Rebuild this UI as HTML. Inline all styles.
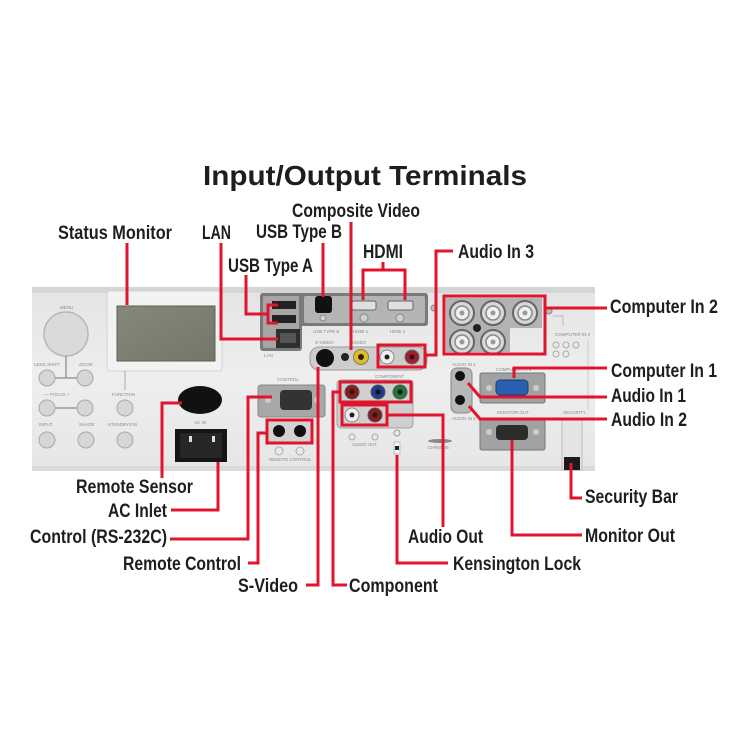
<!DOCTYPE html>
<html><head><meta charset="utf-8"><style>
html,body{margin:0;padding:0;background:#fff;}
svg{display:block;}
.lb{font-family:"Liberation Sans",Arial,sans-serif;font-weight:bold;font-size:19px;fill:#1e1e1e;}
.tt{font-family:"Liberation Sans",Arial,sans-serif;font-size:4.5px;fill:#8a8a8a;}
.r{stroke:#e0142d;stroke-width:3;fill:none;}
</style></head><body>
<svg width="750" height="750" viewBox="0 0 750 750" xmlns="http://www.w3.org/2000/svg">
<defs>
<linearGradient id="pg" x1="0" y1="0" x2="0" y2="1"><stop offset="0" stop-color="#e4e4e4"/><stop offset="0.5" stop-color="#eeeeee"/><stop offset="1" stop-color="#e6e6e6"/></linearGradient>
<linearGradient id="lcd" x1="0" y1="0" x2="1" y2="1"><stop offset="0" stop-color="#86887a"/><stop offset="1" stop-color="#74766a"/></linearGradient>
</defs>
<rect width="750" height="750" fill="#fff"/>
<text x="203" y="185" font-family="Liberation Sans, Arial, sans-serif" font-weight="bold" font-size="28" fill="#1e1e1e" textLength="324" lengthAdjust="spacingAndGlyphs">Input/Output Terminals</text>

<!-- panel -->
<rect x="32" y="287" width="563" height="184" fill="url(#pg)"/>
<rect x="32" y="287" width="563" height="6" fill="#d5d5d5"/>
<rect x="32" y="466" width="563" height="5" fill="#dadada"/>

<!-- left controls -->
<text class="tt" x="60" y="309">MENU</text>
<circle cx="66" cy="334" r="22" fill="#dadada" stroke="#b8b8b8" stroke-width="1.5"/>
<line x1="66" y1="356" x2="66" y2="378" stroke="#9a9a9a" stroke-width="1.5"/>
<line x1="47" y1="378" x2="85" y2="378" stroke="#9a9a9a" stroke-width="1.5"/>
<text class="tt" x="34" y="366">LENS SHIFT</text><text class="tt" x="79" y="366">ZOOM</text>
<circle cx="47" cy="378" r="8" fill="#d6d6d6" stroke="#a8a8a8"/><circle cx="85" cy="378" r="8" fill="#d6d6d6" stroke="#a8a8a8"/>
<text class="tt" x="44" y="396">—    FOCUS    +</text>
<line x1="47" y1="408" x2="85" y2="408" stroke="#9a9a9a" stroke-width="1.5"/>
<circle cx="47" cy="408" r="8" fill="#d6d6d6" stroke="#a8a8a8"/><circle cx="85" cy="408" r="8" fill="#d6d6d6" stroke="#a8a8a8"/>
<text class="tt" x="112" y="396">FUNCTION</text>
<circle cx="125" cy="408" r="8" fill="#d6d6d6" stroke="#a8a8a8"/>
<text class="tt" x="39" y="426">INPUT</text><text class="tt" x="79" y="426">SHADE</text><text class="tt" x="108" y="426">STANDBY/ON</text>
<circle cx="47" cy="440" r="8" fill="#d6d6d6" stroke="#a8a8a8"/><circle cx="86" cy="440" r="8" fill="#d6d6d6" stroke="#a8a8a8"/><circle cx="125" cy="440" r="8" fill="#d6d6d6" stroke="#a8a8a8"/>
<rect x="107" y="291" width="115" height="80" rx="3" fill="#f2f2f2" stroke="#d2d2d2"/>
<rect x="117" y="306" width="98" height="55" fill="url(#lcd)" stroke="#5f6055"/>
<line x1="125" y1="371" x2="125" y2="390" stroke="#aaa" stroke-width="1"/>
<ellipse cx="200" cy="400" rx="22" ry="14" fill="#111"/>
<text class="tt" x="194" y="424">AC IN</text>
<rect x="175" y="429" width="52" height="33" fill="#151515"/>
<rect x="180" y="433" width="42" height="25" fill="#262626"/>
<rect x="189" y="436" width="3" height="6" fill="#ddd"/><rect x="212" y="436" width="3" height="6" fill="#ddd"/>

<!-- middle connectors -->
<rect x="260" y="293" width="168" height="33" rx="3" fill="#7a7a7a"/>
<rect x="260" y="293" width="42" height="58" rx="3" fill="#7a7a7a"/>
<rect x="304" y="296" width="121" height="27" rx="2" fill="#b4b4b4"/>
<rect x="263" y="296" width="36" height="52" rx="2" fill="#a6a6a6"/>
<rect x="272" y="301" width="24" height="8" fill="#222"/><rect x="272" y="315" width="24" height="8" fill="#222"/>
<rect x="276" y="329" width="24" height="19" fill="#2f2f2f"/><rect x="280" y="333" width="16" height="10" fill="#555"/>
<text class="tt" x="264" y="357">LAN</text>
<rect x="315" y="296" width="17" height="17" rx="3" fill="#111"/>
<rect x="352" y="301" width="24" height="9" rx="2" fill="#e0e0e0" stroke="#666"/>
<rect x="388" y="301" width="25" height="9" rx="2" fill="#e0e0e0" stroke="#666"/>
<circle cx="364" cy="318" r="4" fill="#d0d0d0" stroke="#888"/><circle cx="400" cy="318" r="4" fill="#d0d0d0" stroke="#888"/>
<circle cx="323" cy="318" r="3" fill="#d0d0d0" stroke="#888"/>
<text class="tt" x="313" y="333">USB TYPE B</text><text class="tt" x="353" y="333">HDMI 1</text><text class="tt" x="390" y="333">HDMI 2</text>
<text class="tt" x="315" y="344">S-VIDEO</text><text class="tt" x="352" y="344">VIDEO</text>
<rect x="310" y="347" width="117" height="23" rx="9" fill="#cdcdcd" stroke="#9a9a9a"/>
<circle cx="325" cy="358" r="9" fill="#111"/>
<circle cx="345" cy="357" r="4" fill="#222"/>
<circle cx="361" cy="357" r="7.5" fill="#e3bd1a" stroke="#777"/><circle cx="361" cy="357" r="3" fill="#222"/>
<circle cx="387" cy="357" r="7" fill="#efefef" stroke="#888"/><circle cx="387" cy="357" r="2.5" fill="#222"/>
<circle cx="412" cy="357" r="7" fill="#9b2030" stroke="#666"/><circle cx="412" cy="357" r="2.5" fill="#3a0b10"/>
<text class="tt" x="277" y="381">CONTROL</text>
<rect x="258" y="385" width="67" height="32" rx="3" fill="#a8a8a8" stroke="#888"/>
<rect x="280" y="390" width="32" height="20" rx="4" fill="#333"/>
<circle cx="268" cy="400" r="3" fill="#ccc"/><circle cx="317" cy="400" r="3" fill="#ccc"/>
<rect x="267" y="420" width="45" height="23" fill="#d2d2d2"/>
<circle cx="279" cy="431" r="6" fill="#111"/><circle cx="300" cy="431" r="6" fill="#111"/>
<circle cx="279" cy="451" r="4" fill="none" stroke="#aaa"/><circle cx="300" cy="451" r="4" fill="none" stroke="#aaa"/>
<text class="tt" x="269" y="461">REMOTE CONTROL</text>
<text class="tt" x="375" y="378">COMPONENT</text>
<rect x="337" y="380" width="76" height="48" rx="4" fill="#cfcfcf" stroke="#a0a0a0"/>
<circle cx="352" cy="392" r="7" fill="#8b1a22" stroke="#555"/><circle cx="352" cy="392" r="2.5" fill="#220"/>
<circle cx="378" cy="392" r="7" fill="#1e3d8a" stroke="#555"/><circle cx="378" cy="392" r="2.5" fill="#111"/>
<circle cx="400" cy="392" r="7" fill="#1d7a3a" stroke="#555"/><circle cx="400" cy="392" r="2.5" fill="#111"/>
<circle cx="352" cy="415" r="7" fill="#efefef" stroke="#888"/><circle cx="352" cy="415" r="2.5" fill="#222"/>
<circle cx="375" cy="415" r="7" fill="#8b1a22" stroke="#555"/><circle cx="375" cy="415" r="2.5" fill="#220"/>
<circle cx="352" cy="437" r="3" fill="none" stroke="#aaa"/><circle cx="375" cy="437" r="3" fill="none" stroke="#aaa"/>
<text class="tt" x="352" y="446">AUDIO OUT</text>
<rect x="394" y="430" width="6" height="6" rx="3" fill="none" stroke="#999"/>
<rect x="394" y="442" width="6" height="12" fill="#f5f5f5" stroke="#bbb"/><rect x="395" y="446" width="4" height="4" fill="#222"/>
<ellipse cx="440" cy="441" rx="12" ry="2" fill="#8a8a8a"/>
<text class="tt" x="428" y="449">CHRISTIE</text>

<!-- right section -->
<polygon points="446,298 542,298 542,328 510,328 510,352 446,352" fill="#b3b3b3"/>
<g fill="#d8d8d8" stroke="#666" stroke-width="2">
<circle cx="462" cy="313" r="12"/><circle cx="493" cy="313" r="12"/><circle cx="525" cy="313" r="12"/><circle cx="462" cy="342" r="12"/><circle cx="493" cy="342" r="12"/>
</g>
<g fill="#f0f0f0" stroke="#888" stroke-width="1.5">
<circle cx="462" cy="313" r="7"/><circle cx="493" cy="313" r="7"/><circle cx="525" cy="313" r="7"/><circle cx="462" cy="342" r="7"/><circle cx="493" cy="342" r="7"/>
</g>
<g fill="#999"><circle cx="462" cy="313" r="2.5"/><circle cx="493" cy="313" r="2.5"/><circle cx="525" cy="313" r="2.5"/><circle cx="462" cy="342" r="2.5"/><circle cx="493" cy="342" r="2.5"/></g>
<circle cx="477" cy="328" r="4" fill="#222"/>
<circle cx="434" cy="308" r="3" fill="#bbb" stroke="#888"/><circle cx="549" cy="311" r="3" fill="#bbb" stroke="#888"/>
<path d="M553 316 H563 V326" stroke="#bbb" fill="none"/>
<text class="tt" x="555" y="336">COMPUTER IN 2</text>
<g fill="none" stroke="#aaa"><circle cx="556" cy="345" r="3"/><circle cx="566" cy="345" r="3"/><circle cx="576" cy="345" r="3"/><circle cx="556" cy="354" r="3"/><circle cx="566" cy="354" r="3"/></g>
<line x1="588" y1="340" x2="588" y2="410" stroke="#ccc"/>
<text class="tt" x="452" y="366">AUDIO IN 1</text>
<rect x="451" y="368" width="21" height="45" rx="6" fill="#b8b8b8" stroke="#888"/>
<circle cx="460" cy="376" r="5" fill="#111"/><circle cx="460" cy="400" r="5" fill="#111"/>
<text class="tt" x="452" y="420">AUDIO IN 2</text>
<text class="tt" x="496" y="371">COMPUTER IN 1</text>
<rect x="480" y="373" width="65" height="30" rx="2" fill="#a2a2a2" stroke="#777"/>
<rect x="496" y="380" width="32" height="15" rx="4" fill="#2a5fb0" stroke="#1a3a70"/>
<circle cx="489" cy="388" r="3" fill="#ccc"/><circle cx="536" cy="388" r="3" fill="#ccc"/>
<text class="tt" x="497" y="414">MONITOR OUT</text>
<rect x="480" y="418" width="65" height="32" rx="2" fill="#a2a2a2" stroke="#777"/>
<rect x="496" y="425" width="32" height="15" rx="4" fill="#2c2c2c"/>
<circle cx="489" cy="432" r="3" fill="#ccc"/><circle cx="536" cy="432" r="3" fill="#ccc"/>
<text class="tt" x="563" y="414">SECURITY</text>
<rect x="562" y="420" width="20" height="50" fill="#e4e4e4" stroke="#bbb"/>
<rect x="564" y="457" width="16" height="13" fill="#1a1a1a"/>

<!-- red callouts -->
<g class="r">
<path d="M127 243 V305"/>
<path d="M221 243 V339 H278"/>
<path d="M246 275 V314 H268"/>
<path d="M278 305 H268 V323 H278"/>
<path d="M323 243 V297"/>
<path d="M351 222 V350"/>
<path d="M383 262 V270"/>
<path d="M363 300 V270 H405 V300"/>
<path d="M453 251 H436 V355 H425"/>
<rect x="378" y="345" width="47" height="22"/>
<rect x="444" y="296" width="101" height="58"/>
<path d="M545 308 H607"/>
<path d="M514 378 V368 H607"/>
<path d="M468 383 L480 397 H607"/>
<path d="M469 406 L480 419 H607"/>
<path d="M571 463 V498 H582"/>
<path d="M512 440 V535 H582"/>
<path d="M397 455 V563 H448"/>
<path d="M387 415 H443 V527"/>
<rect x="340" y="382" width="71" height="20"/>
<rect x="342" y="405" width="45" height="20"/>
<path d="M340 392 H333 V585 H347"/>
<path d="M318 367 V585 H306"/>
<rect x="267" y="420" width="45" height="23"/>
<path d="M267 433 H258 V563 H248"/>
<path d="M272 397 H248 V539 H170"/>
<path d="M218 462 V510 H171"/>
<path d="M182 403 H162 V478"/>
</g>

<!-- labels -->
<text class="lb" x="58" y="239" textLength="114" lengthAdjust="spacingAndGlyphs">Status Monitor</text>
<text class="lb" x="202" y="239" textLength="29" lengthAdjust="spacingAndGlyphs">LAN</text>
<text class="lb" x="256" y="238" textLength="86" lengthAdjust="spacingAndGlyphs">USB Type B</text>
<text class="lb" x="292" y="217" textLength="128" lengthAdjust="spacingAndGlyphs">Composite Video</text>
<text class="lb" x="363" y="258" textLength="40" lengthAdjust="spacingAndGlyphs">HDMI</text>
<text class="lb" x="228" y="272" textLength="85" lengthAdjust="spacingAndGlyphs">USB Type A</text>
<text class="lb" x="458" y="258" textLength="76" lengthAdjust="spacingAndGlyphs">Audio In 3</text>
<text class="lb" x="610" y="313" textLength="108" lengthAdjust="spacingAndGlyphs">Computer In 2</text>
<text class="lb" x="611" y="377" textLength="106" lengthAdjust="spacingAndGlyphs">Computer In 1</text>
<text class="lb" x="611" y="402" textLength="75" lengthAdjust="spacingAndGlyphs">Audio In 1</text>
<text class="lb" x="611" y="426" textLength="76" lengthAdjust="spacingAndGlyphs">Audio In 2</text>
<text class="lb" x="76" y="493" textLength="117" lengthAdjust="spacingAndGlyphs">Remote Sensor</text>
<text class="lb" x="108" y="517" textLength="59" lengthAdjust="spacingAndGlyphs">AC Inlet</text>
<text class="lb" x="30" y="543" textLength="137" lengthAdjust="spacingAndGlyphs">Control (RS-232C)</text>
<text class="lb" x="123" y="570" textLength="118" lengthAdjust="spacingAndGlyphs">Remote Control</text>
<text class="lb" x="238" y="592" textLength="60" lengthAdjust="spacingAndGlyphs">S-Video</text>
<text class="lb" x="349" y="592" textLength="89" lengthAdjust="spacingAndGlyphs">Component</text>
<text class="lb" x="585" y="503" textLength="93" lengthAdjust="spacingAndGlyphs">Security Bar</text>
<text class="lb" x="408" y="543" textLength="75" lengthAdjust="spacingAndGlyphs">Audio Out</text>
<text class="lb" x="585" y="542" textLength="90" lengthAdjust="spacingAndGlyphs">Monitor Out</text>
<text class="lb" x="453" y="570" textLength="128" lengthAdjust="spacingAndGlyphs">Kensington Lock</text>
</svg>
</body></html>
